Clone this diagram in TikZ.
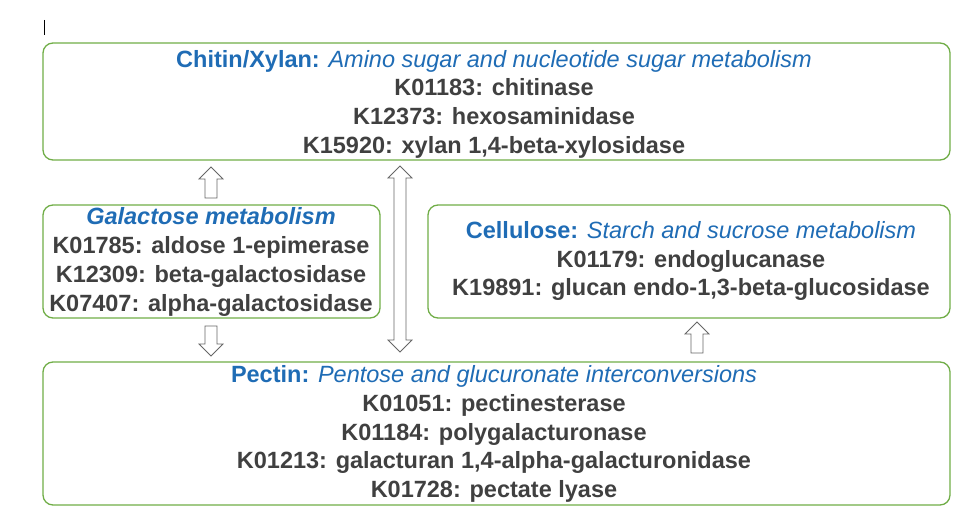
\documentclass[tikz,border=0pt]{standalone}
\usepackage{fontspec}
\setmainfont{Liberation Sans}
\definecolor{txt}{HTML}{404040}
\definecolor{blu}{HTML}{1F6CB5}
\definecolor{grn}{HTML}{70AD47}
\begin{document}
\begin{tikzpicture}[x=1pt,y=-1pt,
  box/.style={draw=grn,line width=1.3pt,rounded corners=10pt},
  lbl/.style={align=center,text=txt,font=\fontsize{23.5}{28.7}\selectfont\bfseries},
  barr/.style={draw=txt!80,line width=0.8pt,fill=white}]
\useasboundingbox (0,0) rectangle (968,510);
\draw[line width=1pt] (44,20) -- (44,35);
\draw[box] (43,43) rectangle (950,160);
\draw[box] (43,205) rectangle (380,318);
\draw[box] (428,205) rectangle (950,318);
\draw[box] (43,362) rectangle (950,505);
\node[lbl] (top) at (494,104) {{\color{blu}Chitin/Xylan: \normalfont\itshape Amino sugar and nucleotide sugar metabolism}\\K01183: chitinase\\K12373: hexosaminidase\\K15920: xylan 1,4-beta-xylosidase};
\node[lbl] (gal) at (211,262) {{\color{blu}\itshape Galactose metabolism}\\K01785: aldose 1-epimerase\\K12309: beta-galactosidase\\K07407: alpha-galactosidase};
\node[lbl] (cel) at (691,261) {{\color{blu}Cellulose: \normalfont\itshape Starch and sucrose metabolism}\\K01179: endoglucanase\\K19891: glucan endo-1,3-beta-glucosidase};
\node[lbl] (pec) at (494,434) {{\color{blu}Pectin: \normalfont\itshape Pentose and glucuronate interconversions}\\K01051: pectinesterase\\K01184: polygalacturonase\\K01213: galacturan 1,4-alpha-galacturonidase\\K01728: pectate lyase};
\newcommand{\uparrowblk}[3]{\draw[barr] (#1-6,#3) -- (#1-6,#2+12) -- (#1-12,#2+12) -- (#1,#2) -- (#1+12,#2+12) -- (#1+6,#2+12) -- (#1+6,#3) -- cycle;}
\newcommand{\downarrowblk}[3]{\draw[barr] (#1-6,#2) -- (#1-6,#3-12) -- (#1-12,#3-12) -- (#1,#3) -- (#1+12,#3-12) -- (#1+6,#3-12) -- (#1+6,#2) -- cycle;}
\uparrowblk{211}{167}{198}
\downarrowblk{211}{326}{356}
\uparrowblk{697}{322}{353}
\draw[barr] (400,166) -- (412,178) -- (406,178) -- (406,340) -- (412,340) -- (400,352) -- (388,340) -- (394,340) -- (394,178) -- (388,178) -- cycle;
\end{tikzpicture}
\end{document}
